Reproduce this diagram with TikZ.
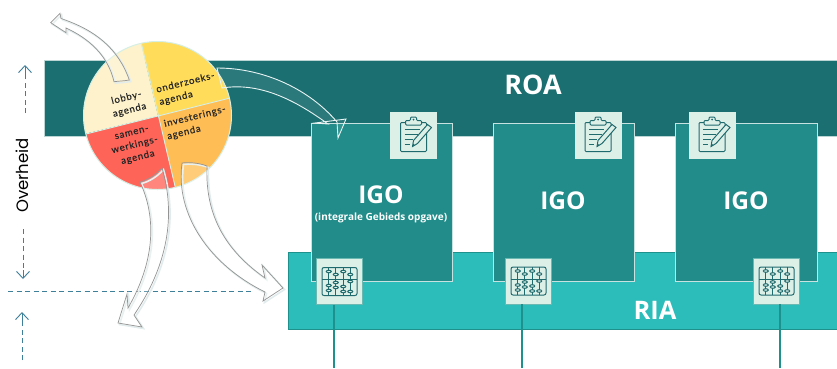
\documentclass[tikz,border=0pt]{standalone}
\usepackage{fontspec}
\setmainfont{Open Sans}
\newfontfamily\circfont[LetterSpace=8,FakeBold=0.25]{Lato}
\newfontfamily\sidefont{Poppins}
\usetikzlibrary{arrows.meta}
\definecolor{roa}{HTML}{1B6F71}
\definecolor{igo}{HTML}{218C89}
\definecolor{ria}{HTML}{2CBDBB}
\definecolor{riaedge}{HTML}{1F918D}
\definecolor{tile}{HTML}{DDF0E8}
\definecolor{ink}{HTML}{1F6A6C}
\definecolor{dash}{HTML}{3E7F9A}
\definecolor{lobby}{HTML}{FDF2CB}
\definecolor{onder}{HTML}{FFDC5A}
\definecolor{invest}{HTML}{FFBE55}
\definecolor{samen}{HTML}{FF6459}
\definecolor{divide}{HTML}{D5EFE4}
\tikzset{
  x=1pt,y=-1pt,
  igobox/.style={draw=white!75!igo,line width=0.9pt,fill=igo},
  tilebox/.style={fill=tile,draw=#1,line width=0.7pt,minimum size=46pt,inner sep=0pt},
  tilebox/.default=tile,
  title/.style={text=white,font=\bfseries\fontsize{24.5}{27}\selectfont,inner sep=0pt},
  bigtitle/.style={text=white,font=\bfseries\fontsize{27}{29}\selectfont,inner sep=0pt},
  agenda/.style={text=black!85,font=\circfont\fontsize{9.6}{12.8}\selectfont,rotate=14,inner sep=0pt},
  softshadow/.style={preaction={draw=ink!13,line width=1.6pt,fill=none,transform canvas={xshift=1.5pt,yshift=-1.5pt}}},
  blockarrow/.style={softshadow,draw=black!42,line width=0.7pt,fill=white,fill opacity=0.22,line join=miter},
  whitearrow/.style={draw=white!90!igo,line width=0.9pt,fill=white,fill opacity=0.07},
  dashline/.style={draw=dash,line width=0.8pt,dash pattern=on 5pt off 3.5pt},
  dashtip/.style={draw=dash,line width=0.9pt,-{Straight Barb[length=7pt,width=13pt]}},
  iconline/.style={draw=ink,line width=1pt},
  link/.style={draw=riaedge,line width=1.4pt},
  clipicon/.pic={
    \draw[iconline,rounded corners=1pt] (-13,-13) rectangle (13,16);
    \draw[iconline,fill=tile,rounded corners=1pt] (-8,-15) -- (-3,-15) -- (-3,-18.5) -- (3,-18.5) -- (3,-15) -- (8,-15) -- (8,-10.5) -- (-8,-10.5) -- cycle;
    \fill[ink] (0,-16) circle (1pt);
    \draw[iconline] (-9,-6) -- (6,-6) (-9,-1) -- (4,-1) (-9,4) -- (-1,4) (-9,9) -- (-4,9);
    \draw[tile,line width=3.4pt] (0,8) -- (16,-10);
    \draw[iconline,fill=tile] (-1,11) -- (0,5) -- (14,-11) -- (18,-8) -- (4,8) -- cycle;
    \fill[ink] (-1,11) -- (-0.5,8) -- (1.5,9.7) -- cycle;
  },
  abacusicon/.pic={
    \draw[iconline,rounded corners=2pt] (-17.5,-14) rectangle (17.5,14);
    \draw[iconline] (-17.5,-2) -- (17.5,-2);
    \foreach \bx/\ba/\bb/\bc in {-10.7/-10/4/9,-3.7/-7/1/6,3.7/-10/5/10,10.7/-7/0/10}{
      \draw[iconline] (\bx,-14) -- (\bx,14);
      \draw[iconline,fill=tile] (\bx,\ba) ellipse (2.5pt and 1.3pt);
      \draw[iconline,fill=tile] (\bx,\bb) ellipse (2.5pt and 1.3pt);
      \draw[iconline,fill=tile] (\bx,\bc) ellipse (2.5pt and 1.3pt);
    };
  },
}
\begin{document}
\begin{tikzpicture}
\useasboundingbox (0,0) rectangle (837,368);
\fill[white] (0,0) rectangle (837,368);

% bands
\node[draw=white!70!roa,line width=0.7pt,fill=roa,minimum width=800pt,minimum height=76pt,inner sep=0pt,anchor=north west] (roa) at (44,60) {};
\fill[white] (837,55) rectangle (850,140);
\node[draw=riaedge,line width=1.2pt,fill=ria,minimum width=560pt,minimum height=77pt,inner sep=0pt,anchor=north west] (ria) at (288,252) {};
\node[bigtitle] (roatext) at (533,85) {ROA};
\node[title,font=\bfseries\fontsize{25.5}{27}\selectfont] (riatext) at (655,310) {RIA};

% connectors below the RIA band
\coordinate (end1) at (334,368);
\coordinate (end2) at (522,368);
\coordinate (end3) at (780,368);

% IGO boxes
\node[igobox,minimum width=141pt,minimum height=158pt,inner sep=0pt,anchor=north west] (igo1) at (311,123) {};
\node[igobox,minimum width=141pt,minimum height=158pt,inner sep=0pt,anchor=north west] (igo2) at (493,123) {};
\node[igobox,minimum width=142pt,minimum height=158pt,inner sep=0pt,anchor=north west] (igo3) at (675,123) {};
\node[title] (igot1) at (381,195) {IGO};
\node[text=white,font=\bfseries\fontsize{10}{11}\selectfont,inner sep=0pt] (igosub) at (381,218) {(integrale Gebieds opgave)};
\node[title] (igot2) at (563,201) {IGO};
\node[title] (igot3) at (746,201) {IGO};

% tiles
\node[tilebox] (c1) at (413.5,135.5) {};
\node[tilebox] (c2) at (598,135.5) {};
\node[tilebox] (c3) at (712,135.5) {};
\node[tilebox=riaedge!60!tile] (a1) at (339.5,281.5) {};
\node[tilebox=riaedge!60!tile] (a2) at (528.5,281) {};
\node[tilebox=riaedge!60!tile] (a3) at (776.5,281) {};
\pic at (c1) {clipicon};
\pic at (c2) {clipicon};
\pic at (c3) {clipicon};
\pic at (a1) {abacusicon};
\pic at (a2) {abacusicon};
\pic at (a3) {abacusicon};
\draw[link] (a1.south -| end1) -- (end1);
\draw[link] (a2.south -| end2) -- (end2);
\draw[link] (a3.south -| end3) -- (end3);

% left scale
\coordinate (hl) at (8,291);
\coordinate (hr) at (253,291);
\draw[dashline] (hl) -- (hr);
\coordinate (t1) at (25,113);
\coordinate (t2) at (25,65);
\draw[dashline] (t1) -- (25,74);
\draw[dashtip] (25,74) -- (t2);
\coordinate (m1) at (23,229);
\coordinate (m2) at (23,279);
\draw[dashline] (m1) -- (23,270);
\draw[dashtip] (23,270) -- (m2);
\coordinate (b1) at (22,360);
\coordinate (b2) at (22,312);
\draw[dashline] (b1) -- (22,322);
\draw[dashtip] (22,322) -- (b2);
\node[rotate=90,text=black,font=\sidefont\fontsize{16.5}{18}\selectfont,inner sep=0pt] (ov) at (22,175.5) {Overheid};

% circle
\coordinate (cc) at (158,116);
\begin{scope}
  \clip (157.5,115.5) circle (74);
  \fill[lobby] (cc) -- (124,-30) -- (10,-30) -- (10,152) -- cycle;
  \fill[onder] (cc) -- (124,-30) -- (302,-30) -- (302,80) -- cycle;
  \fill[invest] (cc) -- (302,80) -- (302,260) -- (192,258) -- cycle;
  \fill[samen] (cc) -- (192,258) -- (10,260) -- (14,152) -- cycle;
  \draw[divide,line width=0.9pt] (124,-30) -- (192,258) (14,152) -- (302,80);
\end{scope}
\node[draw=divide,line width=1pt,circle,minimum size=148pt,inner sep=0pt] (disc) at (157.5,115.5) {};
\node[agenda,align=center] (tl) at (128,104) {lobby-\\agenda};
\node[agenda,align=left] (to) at (187,89) {onderzoeks-\\agenda};
\node[agenda,align=left] (ti) at (196.5,123) {investerings-\\agenda};
\node[agenda,align=center] (ts) at (135,146) {samen-\\werkings-\\agenda};

% block arrows
\draw[blockarrow]
  (50.7,22.7) -- (60,13.3) -- (61,18.5)
  .. controls (95,30) and (118,48) .. (129.3,80)
  .. controls (124,81) and (119,81) .. (114,81.7)
  .. controls (108,55) and (88,38) .. (66,28)
  -- (66,32.7) -- cycle;
\draw[blockarrow]
  (118,323) -- (127,294) -- (128,308)
  .. controls (150,270) and (160,225) .. (140,182)
  .. controls (148,180) and (156,175) .. (162,168)
  .. controls (176,215) and (168,265) .. (134,315)
  -- (142,327) -- cycle;
\draw[blockarrow]
  (283,288) -- (262,265) -- (265,278)
  .. controls (225,250) and (205,215) .. (207,166)
  .. controls (199,163) and (190,162) .. (182,163)
  .. controls (175,215) and (210,265) .. (265,292)
  -- (263,301) -- cycle;
\draw[whitearrow]
  (346,119) -- (315,123) -- (328,124)
  .. controls (295,100) and (260,82) .. (222,88)
  -- (217,68)
  .. controls (265,68) and (310,90) .. (337,122)
  -- (338,138) -- cycle;
\end{tikzpicture}
\end{document}
